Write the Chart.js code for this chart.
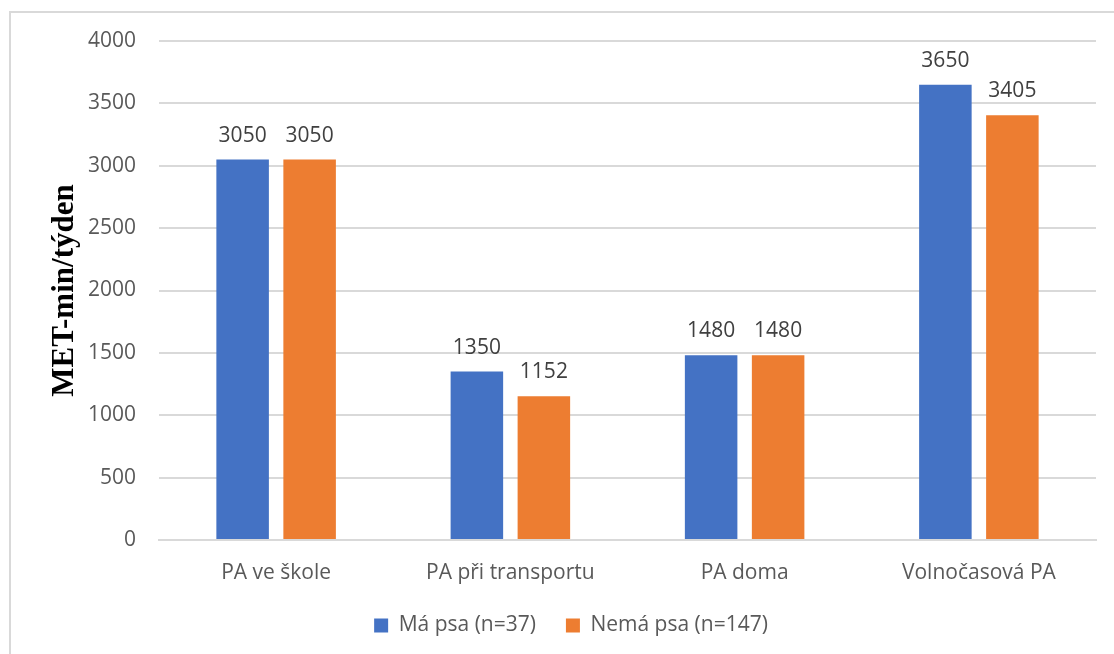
<!DOCTYPE html>
<html>
<head>
<meta charset="utf-8">
<script src="https://cdn.jsdelivr.net/npm/chart.js@4/dist/chart.umd.min.js"></script>
<style>
  html, body { margin: 0; padding: 0; background: #ffffff; }
  #wrap { position: relative; width: 1114px; height: 654px; overflow: hidden; }
  #frame { position: absolute; left: 9px; top: 11px; width: 1200px; height: 800px;
           border-left: 2px solid #d9d9d9; border-top: 2px solid #d9d9d9; }
  canvas { position: absolute; left: 0; top: 0; }
</style>
</head>
<body>
<div id="wrap">
  <div id="frame"></div>
  <canvas id="c" width="1114" height="654"></canvas>
</div>
<script>
const categories = ["PA ve škole", "PA při transportu", "PA doma", "Volnočasová PA"];
const seriesNames = ["Má psa (n=37)", "Nemá psa (n=147)"];
const maPsa = [3050, 1350, 1480, 3650];
const nemaPsa = [3050, 1152, 1480, 3405];
const yTicks = [0, 500, 1000, 1500, 2000, 2500, 3000, 3500, 4000];
const yAxisTitle = "MET-min/týden";

const FONT = "'Open Sans', 'Noto Sans', sans-serif";

const dataLabels = {
  id: 'dataLabels',
  afterDatasetsDraw(chart) {
    const ctx = chart.ctx;
    ctx.save();
    ctx.font = "21px " + FONT;
    ctx.fillStyle = '#404040';
    ctx.textAlign = 'center';
    ctx.textBaseline = 'alphabetic';
    chart.data.datasets.forEach((ds, i) => {
      chart.getDatasetMeta(i).data.forEach((bar, j) => {
        ctx.fillText(String(ds.data[j]), bar.x, bar.y - 18);
      });
    });
    ctx.restore();
  }
};

new Chart(document.getElementById('c'), {
  type: 'bar',
  data: {
    labels: categories,
    datasets: [
      { label: seriesNames[0], data: maPsa, backgroundColor: '#4472C4' },
      { label: seriesNames[1], data: nemaPsa, backgroundColor: '#ED7D31' }
    ]
  },
  options: {
    responsive: false,
    animation: false,
    devicePixelRatio: 1,
    categoryPercentage: 0.572,
    barPercentage: 0.784,
    layout: { padding: { left: 46, right: 18, top: 41, bottom: 8 } },
    plugins: {
      legend: {
        position: 'bottom',
        labels: {
          font: { family: FONT, size: 21 },
          color: '#595959',
          boxWidth: 14,
          boxHeight: 14,
          padding: 30
        }
      },
      tooltip: { enabled: false }
    },
    scales: {
      x: {
        grid: { display: false },
        border: { display: true, color: '#d9d9d9', width: 2 },
        ticks: { font: { family: FONT, size: 21 }, color: '#595959', padding: 12 },
        afterFit(s) { s.height = 45; }
      },
      y: {
        min: 0, max: 4000,
        afterBuildTicks(s) { s.ticks = yTicks.map(v => ({ value: v })); },
        grid: { color: '#d9d9d9', lineWidth: 2, drawTicks: false },
        border: { display: false },
        ticks: { font: { family: FONT, size: 21 }, color: '#595959', padding: 23,
                 callback: (v) => String(v) },
        title: {
          display: true,
          text: yAxisTitle,
          font: { family: "'Liberation Serif', 'Times New Roman', serif", size: 31, weight: 'bold' },
          color: '#000000',
          padding: { top: 0, bottom: 0 }
        },
        afterFit(s) { s.width = 113; }
      }
    }
  },
  plugins: [dataLabels]
});
</script>
</body>
</html>
